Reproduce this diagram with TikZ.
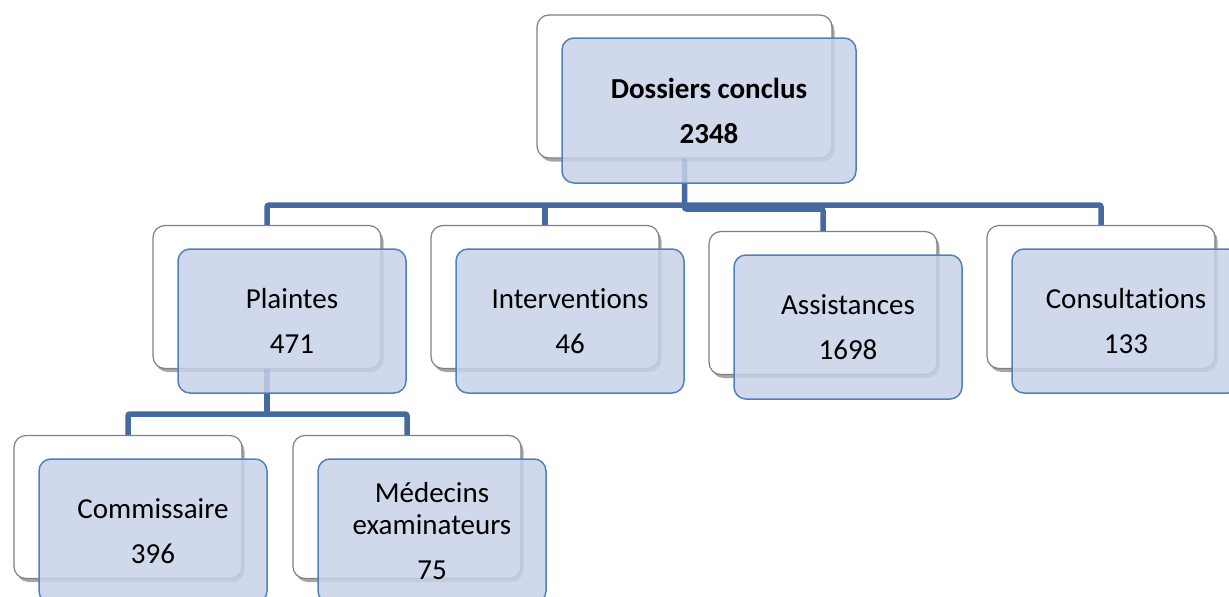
\documentclass[tikz,border=0pt]{standalone}
\usepackage{fontspec}
\setmainfont[Ligatures=NoCommon]{Carlito}
\usetikzlibrary{shadows,backgrounds}
\definecolor{connblue}{RGB}{68,106,160}
\definecolor{bluefill}{RGB}{200,210,232}
\definecolor{blueline}{RGB}{79,129,189}
\definecolor{greyline}{RGB}{128,128,128}
\begin{document}
\begin{tikzpicture}[x=1pt,y=1pt,
  backbox/.style={draw=greyline, line width=1.2pt, fill=white, rounded corners=12pt,
    minimum width=228pt, minimum height=143pt, inner sep=0pt,
    drop shadow={shadow xshift=2.5pt, shadow yshift=-3.5pt, opacity=0.35, fill=black}},
  frontbox/.style={draw=blueline, line width=1.5pt, fill=bluefill, fill opacity=0.85,
    text opacity=1, rounded corners=12pt, minimum width=228pt, minimum height=144pt,
    inner sep=0pt, align=center, font=\fontsize{29}{45}\selectfont},
  connector/.style={draw=connblue, line width=5.5pt, rounded corners=2pt}]
\clip (0,0) rectangle (1229,-597);
% top
\node[backbox, minimum width=295pt, minimum height=143pt] (wT) at (684.5,-86.5) {};
\node[frontbox, minimum width=294pt, minimum height=145pt] (bT) at (709,-110.5) {\bfseries Dossiers conclus\\\bfseries 2348};
% level 2
\node[backbox] (wP) at (267,-297) {};
\node[frontbox] (bP) at (292,-321) {Plaintes\\471};
\node[backbox] (wI) at (545,-297) {};
\node[frontbox] (bI) at (570,-321) {Interventions\\46};
\node[backbox] (wA) at (823,-303) {};
\node[frontbox] (bA) at (848,-327) {Assistances\\1698};
\node[backbox] (wC) at (1101,-297) {};
\node[frontbox] (bC) at (1126,-321) {Consultations\\133};
% level 3
\node[backbox] (wK) at (128,-507) {};
\node[frontbox] (bK) at (153,-531) {Commissaire\\396};
\node[backbox] (wM) at (407,-507) {};
\node[frontbox] (bM) at (432,-531) {Médecins\\[-13pt]examinateurs\\75};
% connectors
\coordinate (bus) at (0,-205);
\coordinate (bustwo) at (0,-209);
\coordinate (busthree) at (0,-414);
\begin{pgfonlayer}{background}
\draw[connector] (wT.center) -- (wT.center |- bustwo) -- (wA.north |- bustwo) -- (wA.north);
\draw[connector] (wP.north) -- (wP.north |- bus) -- (wC.north |- bus) -- (wC.north);
\draw[connector] (wI.north) -- (wI.north |- bus);
\draw[connector] (wK.north) -- (wK.north |- busthree) -- (wM.north |- busthree) -- (wM.north);
\draw[connector] (wP.center) -- (wP.center |- busthree);
\end{pgfonlayer}
\end{tikzpicture}
\end{document}
